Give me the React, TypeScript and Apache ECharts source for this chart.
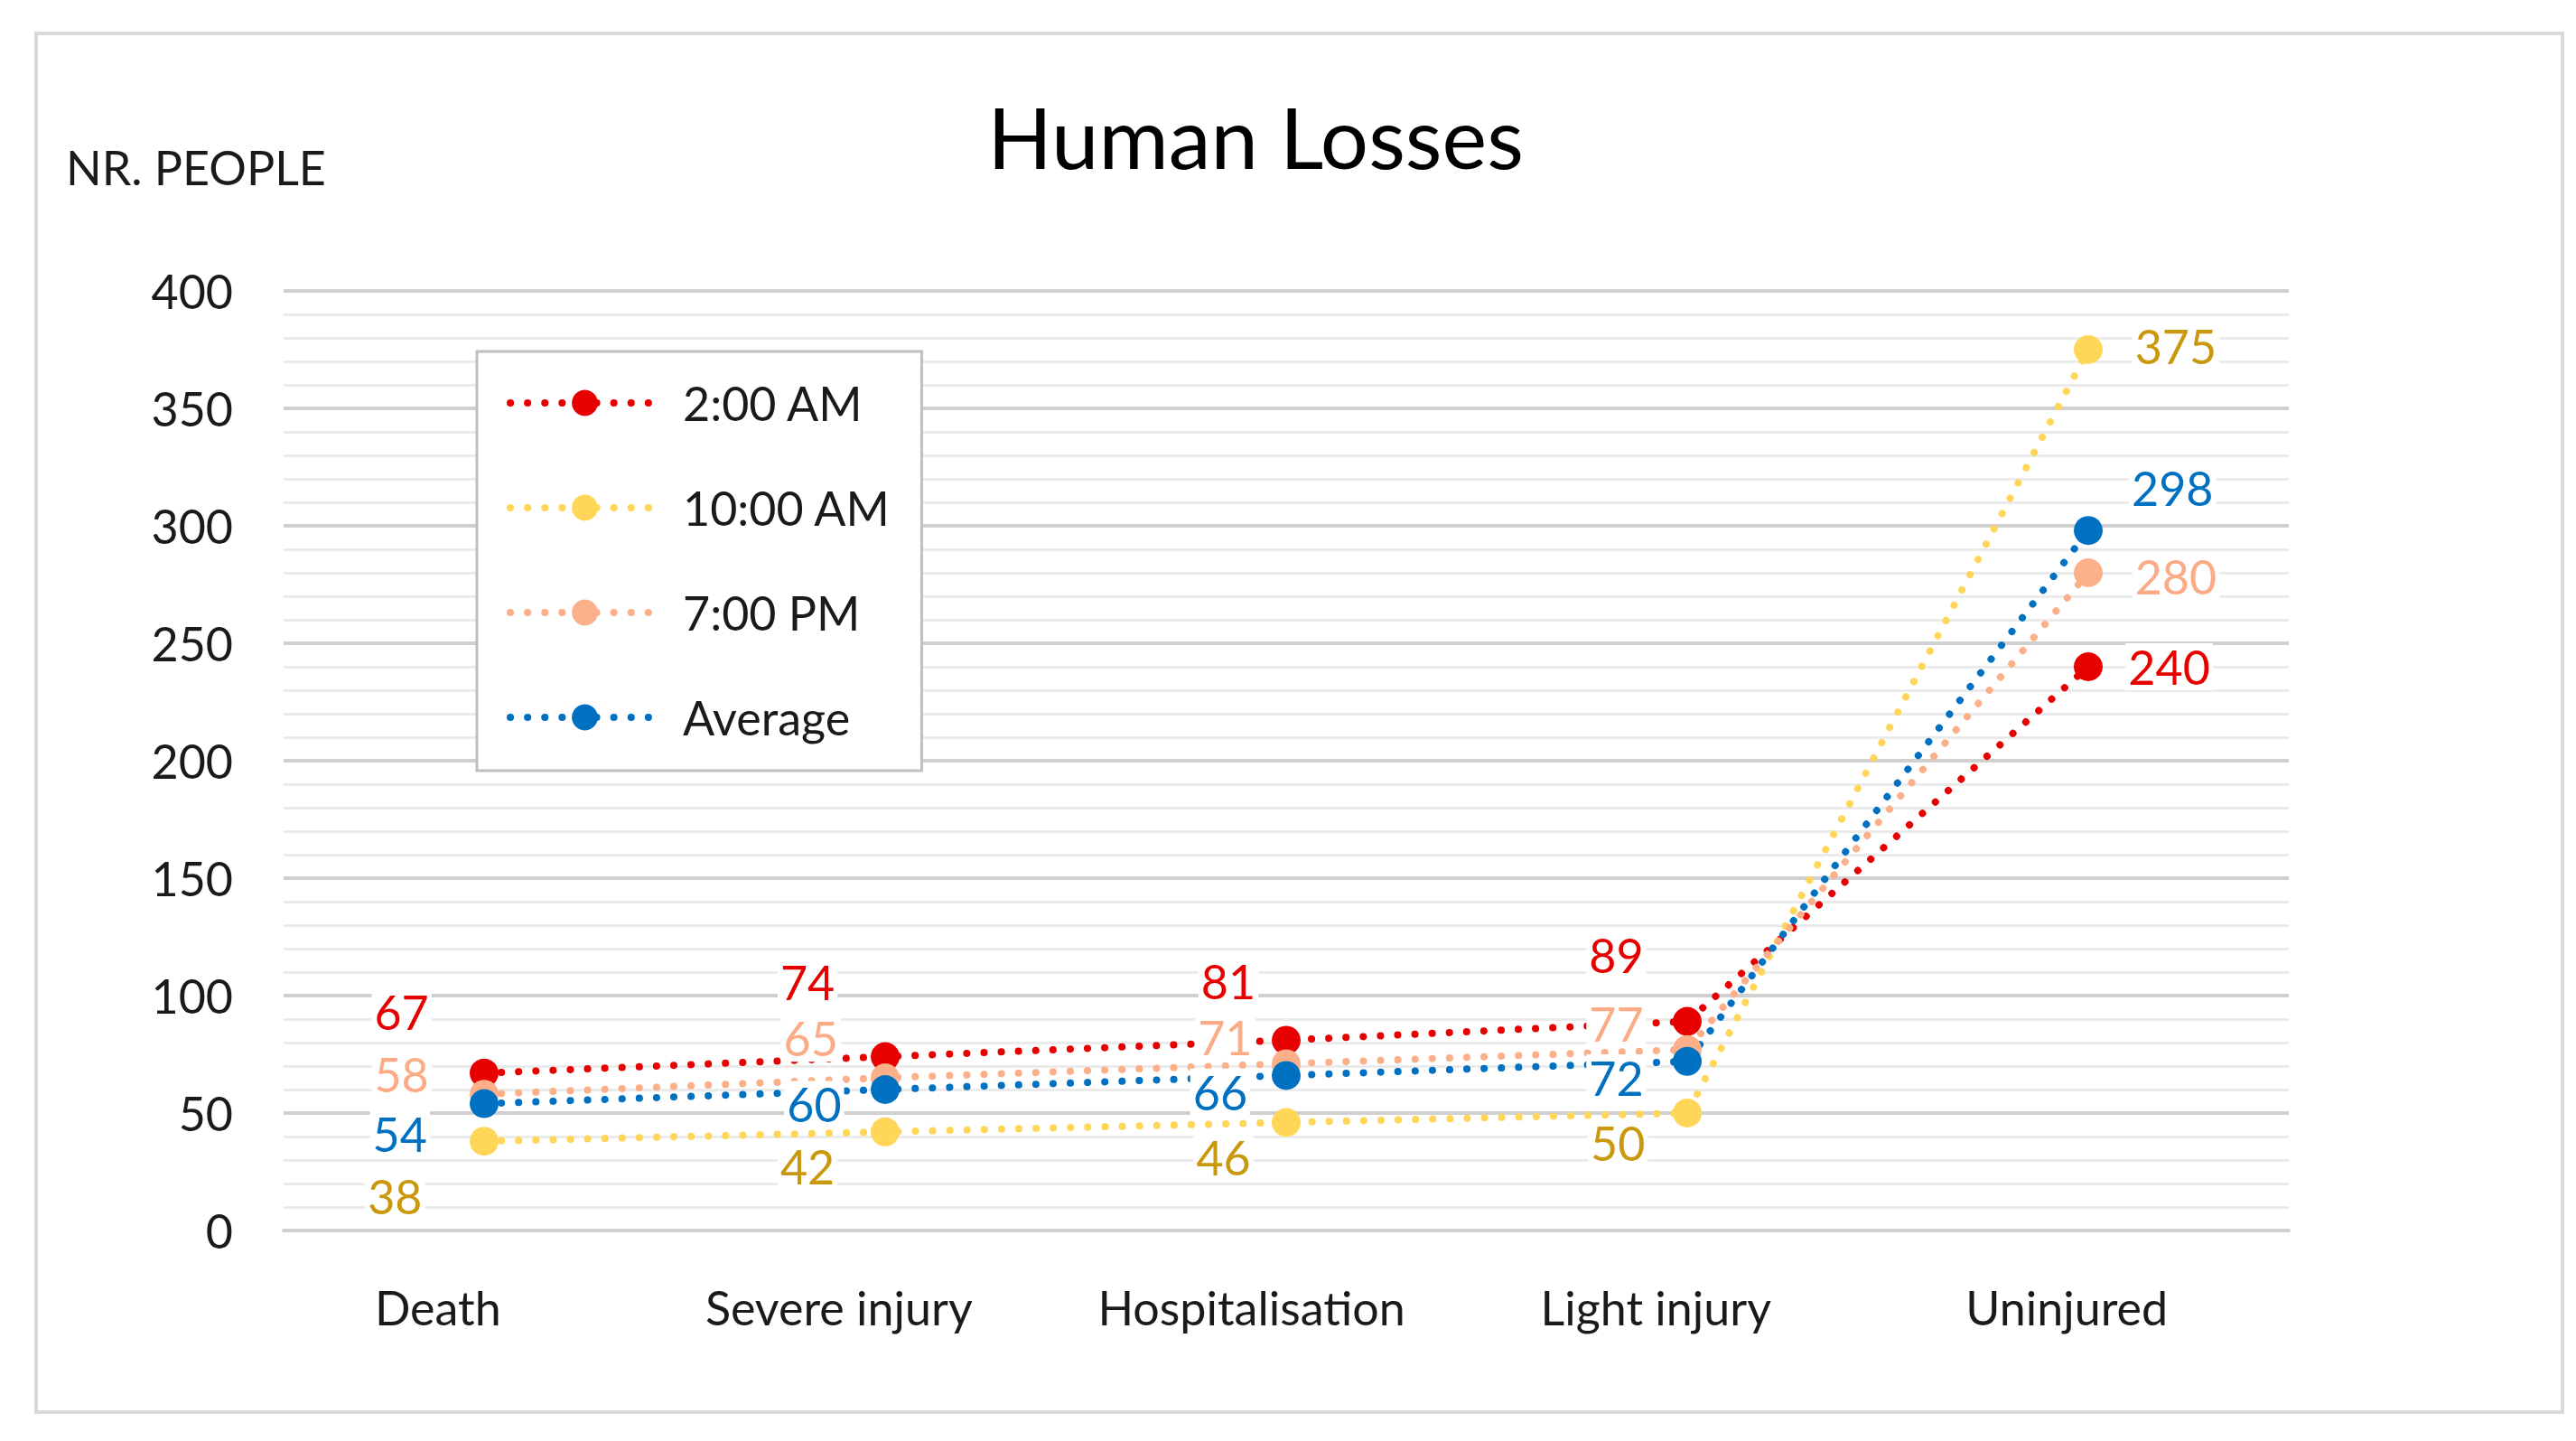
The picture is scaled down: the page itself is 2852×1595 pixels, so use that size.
import React, { useEffect, useRef } from "react";
import * as echarts from "echarts";

const categories = ["Death", "Severe injury", "Hospitalisation", "Light injury", "Uninjured"];
const seriesNames = ["2:00 AM", "10:00 AM", "7:00 PM", "Average"];
const values2am = [67, 74, 81, 89, 240];
const values10am = [38, 42, 46, 50, 375];
const values7pm = [58, 65, 71, 77, 280];
const valuesAvg = [54, 60, 66, 72, 298];
const yTicks = [0, 50, 100, 150, 200, 250, 300, 350, 400];

const lineColors = ["#e60000", "#ffd658", "#fbb08a", "#0070c0"];
const labelColors = ["#e60000", "#c9980c", "#fbac86", "#0070c0"];

// label offsets (reference px, scaled below)
const S = 1.828;
const labelOffsets = [
  [[-50, -37], [-47, -45], [-35, -36], [-43, -40], [49, 0]],
  [[-54, 33], [-47, 21], [-38, 21], [-42, 18], [53, -2]],
  [[-50, -12], [-45, -24], [-37, -16], [-43, -16], [53, 2]],
  [[-51, 18], [-43, 9], [-40, 10], [-43, 10], [51, -26]],
];
// horizontal shift of category labels (reference px)
const catLabelShift = [-28, -28, -21, -19, -13];

const FONT = "Lato";

export default function App() {
  const ref = useRef<HTMLDivElement>(null);
  useEffect(() => {
    if (!ref.current) return;
    const chart = echarts.init(ref.current, null, { renderer: "svg" });
    const allValues = [values2am, values10am, values7pm, valuesAvg];
    const series = allValues.map((vals, si) => ({
      name: seriesNames[si],
      type: "line",
      symbol: "circle",
      symbolSize: 32,
      color: lineColors[si],
      itemStyle: { color: lineColors[si] },
      lineStyle: { color: lineColors[si], width: 8, type: [0.1, 19], cap: "round" },
      label: {
        show: true,
        position: "inside",
        align: "center",
        verticalAlign: "middle",
        color: labelColors[si],
        fontFamily: FONT,
        fontSize: 52,
        backgroundColor: "#ffffff",
        padding: [0, 3],
      },
      data: vals.map((v, ci) => ({
        value: v,
        label: { offset: [labelOffsets[si][ci][0] * S, labelOffsets[si][ci][1] * S] },
      })),
    }));
    const catData = categories.map((c, i) => {
      const sh = -catLabelShift[i] * S * 2;
      return { value: c, textStyle: { padding: [0, sh, 0, 0] } };
    });
    chart.setOption({
      animation: false,
      backgroundColor: "#ffffff",
      textStyle: { fontFamily: FONT },
      graphic: [
        {
          type: "rect",
          shape: { x: 40, y: 37, width: 2797, height: 1526 },
          style: { fill: "none", stroke: "#d9d9d9", lineWidth: 4 },
          z: -1,
        },
        {
          type: "text",
          x: 1390,
          y: 150,
          style: {
            text: "Human Losses",
            fontFamily: FONT,
            fontSize: 94,
            fill: "#000000",
            textAlign: "center",
            textVerticalAlign: "middle",
          },
        },
        {
          type: "text",
          x: 73,
          y: 185,
          style: {
            text: "NR. PEOPLE",
            fontFamily: FONT,
            fontSize: 52,
            fill: "#1a1a1a",
            textAlign: "left",
            textVerticalAlign: "middle",
          },
        },
      ],
      legend: {
        orient: "vertical",
        left: 528,
        top: 389,
        padding: [27, 34, 29, 33],
        itemGap: 56,
        itemWidth: 165,
        itemHeight: 36,
        borderColor: "#bfbfbf",
        borderWidth: 3,
        backgroundColor: "#ffffff",
        lineStyle: { width: 8, type: [0.1, 19], cap: "round" },
        textStyle: {
          fontFamily: FONT,
          fontSize: 52,
          color: "#1a1a1a",
          lineHeight: 60,
          padding: [0, 0, 0, 21],
        },
        data: seriesNames,
      },
      grid: { left: 314, right: 318, top: 322, bottom: 233, containLabel: false },
      xAxis: {
        type: "category",
        data: catData,
        boundaryGap: true,
        axisLine: { show: true, lineStyle: { color: "#d0d0d0", width: 4 } },
        axisTick: { show: false },
        axisLabel: {
          fontFamily: FONT,
          fontSize: 52,
          color: "#1a1a1a",
          margin: 59,
        },
      },
      yAxis: {
        type: "value",
        min: yTicks[0],
        max: yTicks[yTicks.length - 1],
        interval: 50,
        axisLine: { show: false },
        axisTick: { show: false },
        axisLabel: { fontFamily: FONT, fontSize: 52, color: "#1a1a1a", margin: 56 },
        splitLine: { show: true, lineStyle: { color: "#d0d0d0", width: 4 } },
        minorTick: { show: false, splitNumber: 5 },
        minorSplitLine: { show: true, lineStyle: { color: "#ebebeb", width: 3 } },
      },
      series,
    });
    return () => chart.dispose();
  }, []);
  return (
    <div
      ref={ref}
      style={{ position: "fixed", left: 0, top: 0, width: 2852, height: 1595, background: "#fff" }}
    />
  );
}
